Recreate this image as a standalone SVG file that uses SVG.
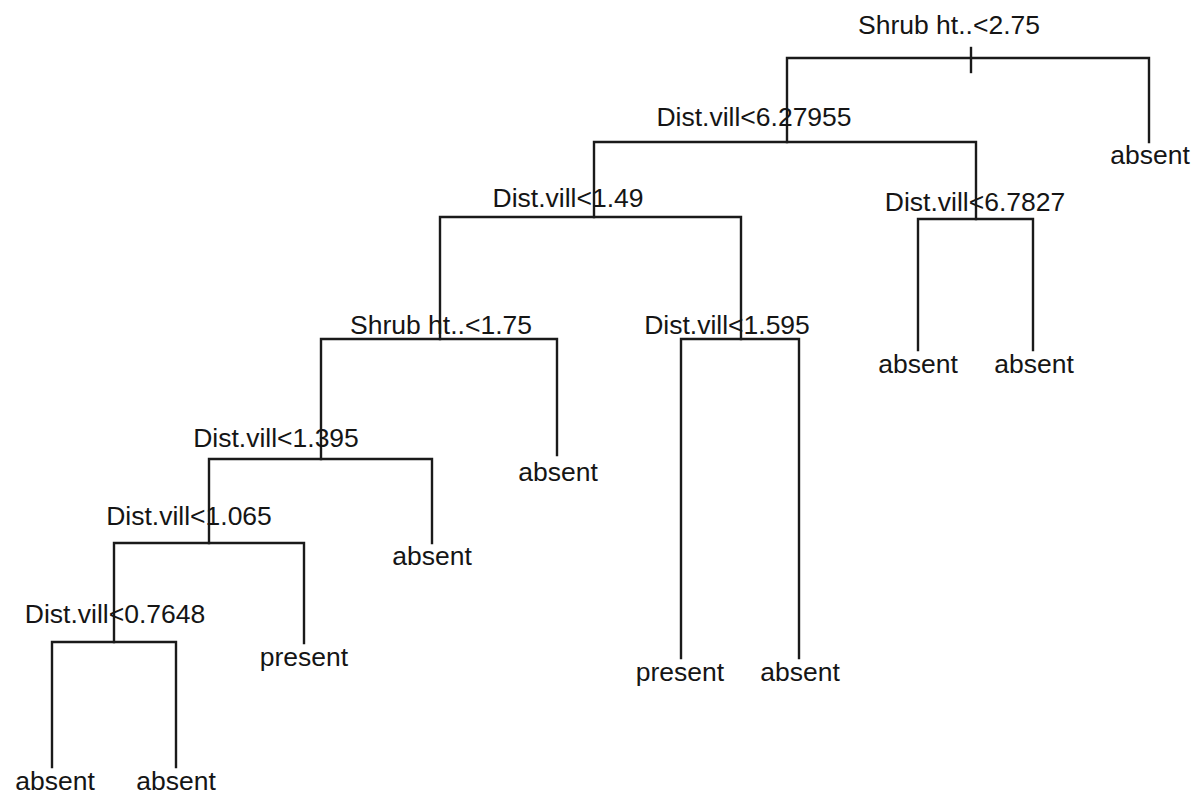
<svg xmlns="http://www.w3.org/2000/svg" width="1200" height="799" viewBox="0 0 1200 799">
<style>
.e{fill:none;stroke:#1a1a1a;stroke-width:2.4;stroke-linecap:square}
text{font-family:"Liberation Sans",Arial,sans-serif;font-size:26.5px;fill:#151515;text-anchor:middle}
</style>
<rect width="1200" height="799" fill="#ffffff"/>
<g id="connectors">
<path class="e" d="M787,142V58H1149V142"/>
<path class="e" d="M971,48V72"/>
<path class="e" d="M594,217V142H976V219"/>
<path class="e" d="M918,350V219H1033V350"/>
<path class="e" d="M440,339V217H741V339"/>
<path class="e" d="M681,658V339H799V658"/>
<path class="e" d="M321,459V339H557V455"/>
<path class="e" d="M209,543V459H432V543"/>
<path class="e" d="M114,642V543H304V643"/>
<path class="e" d="M52,767V642H176V767"/>
</g>
<g id="n1"><text x="949" y="34">Shrub ht..&lt;2.75</text></g>
<g id="n2"><text x="754" y="126">Dist.vill&lt;6.27955</text></g>
<g id="n3"><text x="1150" y="164">absent</text></g>
<g id="n4"><text x="568" y="207">Dist.vill&lt;1.49</text></g>
<g id="n5"><text x="975" y="211">Dist.vill&lt;6.7827</text></g>
<g id="n6"><text x="918" y="373">absent</text></g>
<g id="n7"><text x="1034" y="373">absent</text></g>
<g id="n8"><text x="441" y="334">Shrub ht..&lt;1.75</text></g>
<g id="n9"><text x="727" y="334">Dist.vill&lt;1.595</text></g>
<g id="n10"><text x="680" y="681">present</text></g>
<g id="n11"><text x="800" y="681">absent</text></g>
<g id="n12"><text x="558" y="481">absent</text></g>
<g id="n13"><text x="276" y="447">Dist.vill&lt;1.395</text></g>
<g id="n14"><text x="432" y="565">absent</text></g>
<g id="n15"><text x="189" y="525">Dist.vill&lt;1.065</text></g>
<g id="n16"><text x="304" y="666">present</text></g>
<g id="n17"><text x="115" y="623">Dist.vill&lt;0.7648</text></g>
<g id="n18"><text x="55" y="790">absent</text></g>
<g id="n19"><text x="176" y="790">absent</text></g>
</svg>
